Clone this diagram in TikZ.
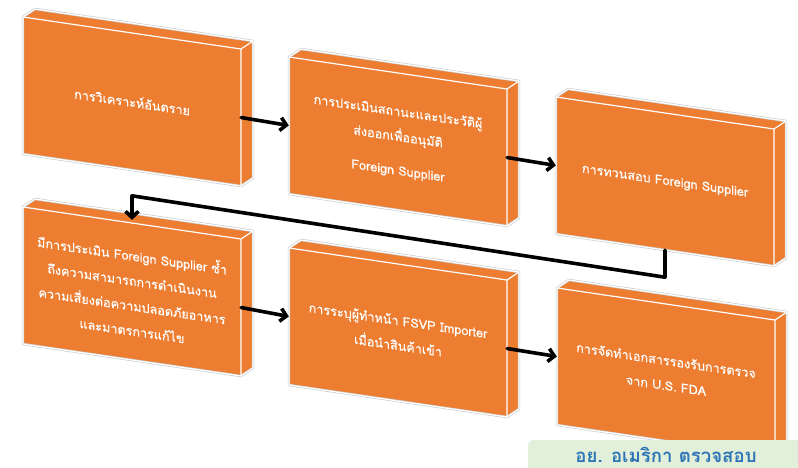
\documentclass[tikz,border=0pt]{standalone}
\usepackage{fontspec}
\newfontfamily\thai[Script=Thai]{Loma}
\newfontfamily\thaimed[Script=Thai, FakeBold=0.4]{Loma}
\usetikzlibrary{arrows.meta}
\definecolor{boxorange}{HTML}{ED7D31}
\definecolor{boxrim}{HTML}{C9C9C9}
\definecolor{notegreen}{HTML}{E2EFDA}
\definecolor{noteblue}{HTML}{2E75B6}

\tikzset{
  slabtext/.style={transform shape, shape=rectangle, minimum width=218pt,
    minimum height=137pt, inner sep=0pt, text=white, align=center,
    font=\thaimed\fontsize{12.6}{25}\selectfont},
  flow/.style={line width=3.6pt, line join=round, line cap=round,
    -{Straight Barb[length=6pt, width=13pt, line width=3.6pt]}},
}

% one slanted block: #1,#2 = front top-left corner, #3 = node name, #4 = label
\newcommand\slabblock[4]{%
  \begin{scope}[shift={(#1,#2)}, yslant=-0.1468]
    \filldraw[fill=boxorange, draw=boxrim, line width=2.4pt, line join=round]
      (0,0) -- (12,-9.76) -- (230,-9.76) -- (230,127.24) -- (218,137) -- (0,137) -- cycle;
    \draw[white, line width=1.2pt, line join=round]
      (0,0) -- (12,-9.76) -- (230,-9.76) -- (230,127.24) -- (218,137) -- (0,137) -- cycle;
    \draw[white, line width=1.2pt, line join=round]
      (0,0) -- (218,0) -- (218,137) (218,0) -- (230,-9.76);
    \node[slabtext] (#3) at (109,68.5) {#4};
  \end{scope}}

\begin{document}
\begin{tikzpicture}[x=1pt, y=-1pt]
  \clip (0,0) rectangle (798,467);
  \fill[white] (0,0) rectangle (798,467);

  \slabblock{23}{17}{b1}{การวิเคราะห์อันตราย}
  \slabblock{289}{57}{b2}{การประเมินสถานะและประวัติผู้\\ส่งออกเพื่ออนุมัติ\\[9pt]Foreign Supplier}
  \slabblock{556}{97}{b3}{การทวนสอบ Foreign Supplier}
  \slabblock{23}{207}{b4}{มีการประเมิน Foreign Supplier ซ้ำ\\ถึงความสามารถการดำเนินงาน\\ความเสี่ยงต่อความปลอดภัยอาหาร\\และมาตรการแก้ไข}
  \slabblock{289}{248}{b5}{การระบุผู้ทำหน้า FSVP Importer\\เมื่อนำสินค้าเข้า}
  \slabblock{557}{288}{b6}{การจัดทำเอกสารรองรับการตรวจ\\จาก U.S. FDA}

  % forward links along each row
  \draw[flow] (b1.east) -- (b2.west);
  \draw[flow] (b2.east) -- (b3.west);
  \draw[flow] (b4.east) -- (b5.west);
  \draw[flow] (b5.east) -- (b6.west);

  % return link from the end of the first row to the start of the second
  \path (b3.south) ++(0,27) coordinate (drop);
  \path (b4.north) ++(0,-27) coordinate (bend);
  \draw[flow, shorten >=3pt] (b3.south) -- (drop) -- (bend) -- (b4.north);

  % reviewer note
  \fill[notegreen, rounded corners=6pt] (528,440) rectangle (812,482);
  \node[anchor=base, text=noteblue, font=\thai\bfseries\fontsize{18.6}{20}\selectfont, inner sep=0pt]
    (note) at (666,462.5) {อย. อเมริกา ตรวจสอบ};
\end{tikzpicture}
\end{document}
